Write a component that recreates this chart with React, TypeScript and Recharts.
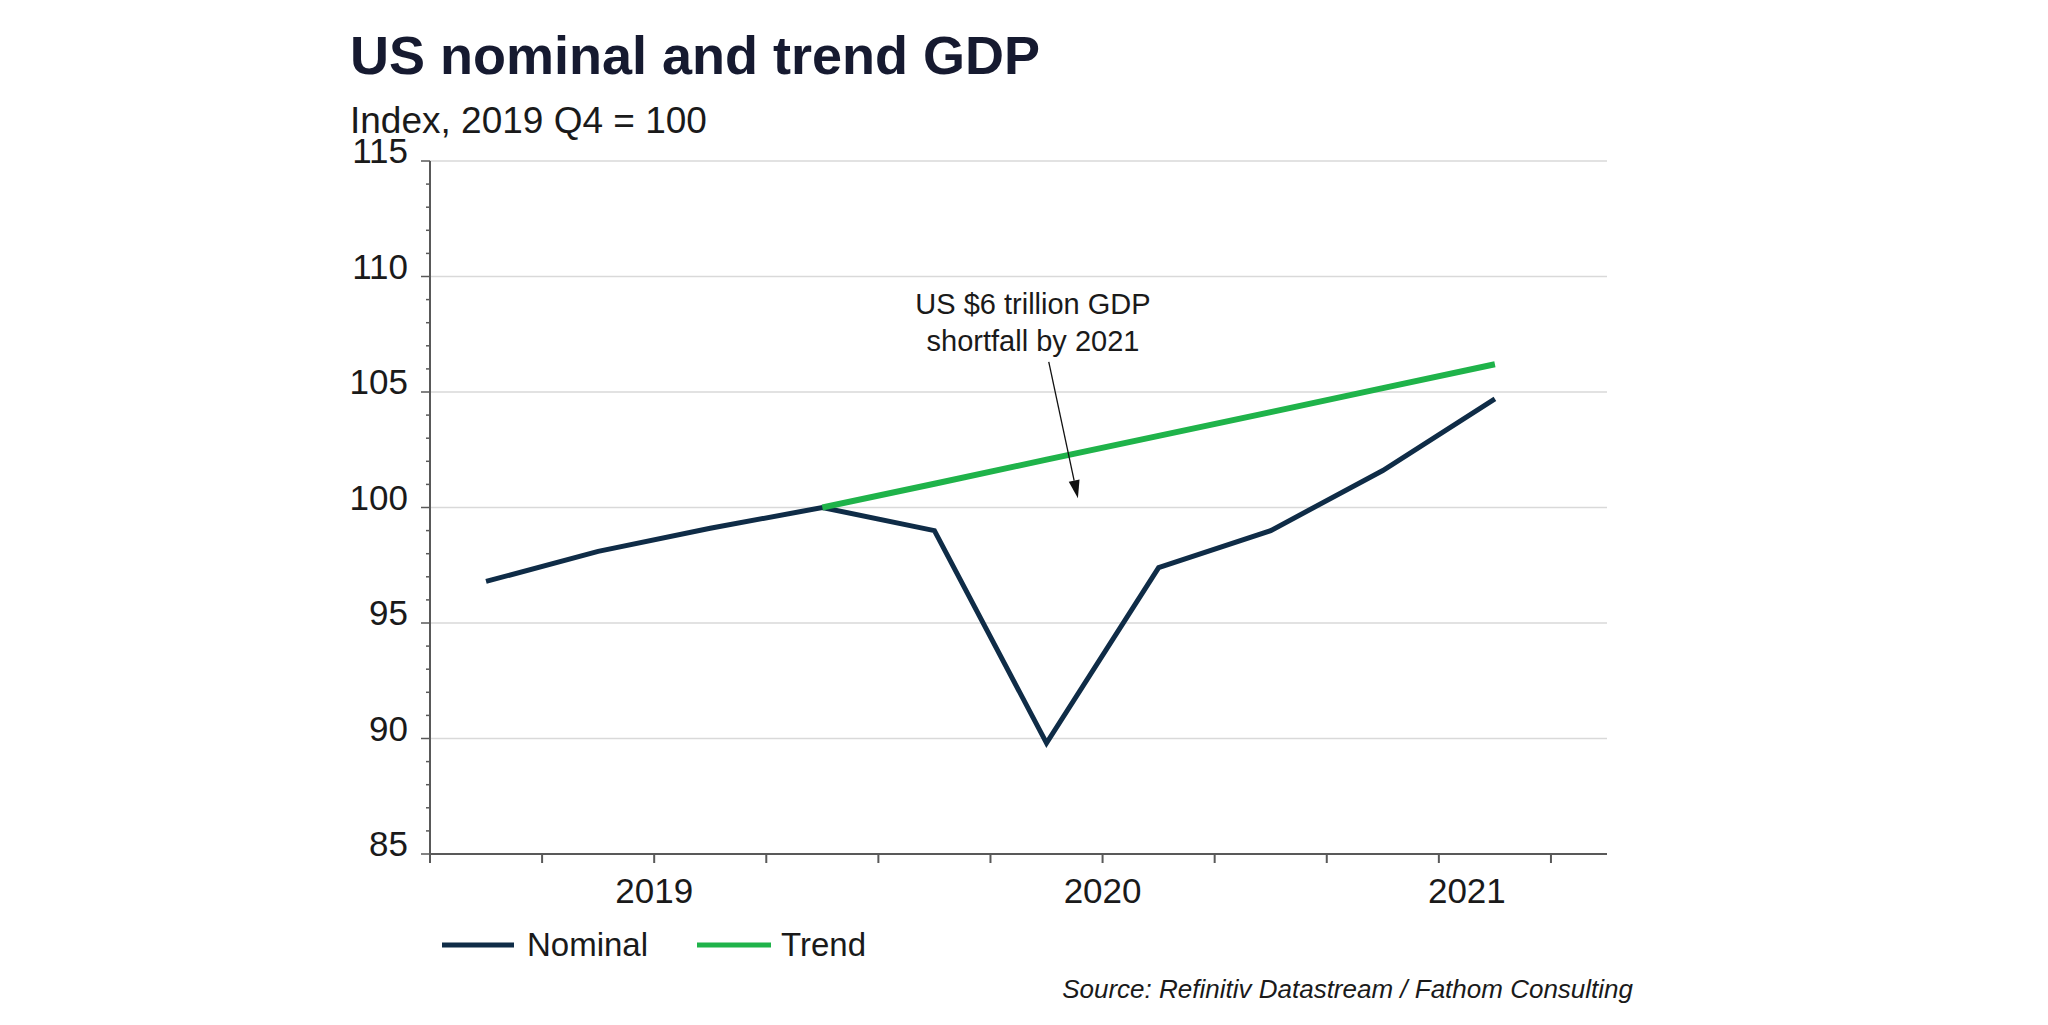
import React from 'react';
import { LineChart, Line, XAxis, YAxis, ReferenceLine } from 'recharts';

const quarters = ['2019 Q1', '2019 Q2', '2019 Q3', '2019 Q4', '2020 Q1', '2020 Q2', '2020 Q3', '2020 Q4', '2021 Q1', '2021 Q2'];
const nominal = [96.8, 98.1, 99.1, 100.0, 99.0, 89.8, 97.4, 99.0, 101.6, 104.7];
const trend = [null, null, null, 100.0, 101.03, 102.07, 103.1, 104.13, 105.17, 106.2];
const years = ['2019', '2020', '2021'];
const yMajor = [85, 90, 95, 100, 105, 110, 115];

// arrow of the annotation, in axis units (quarter index, index value)
const arrowFrom = { x: 5.52, y: 106.3 };
const arrowTo = { x: 5.78, y: 100.4 };

const FONT = '"Liberation Sans", Arial, sans-serif';
const AXIS = '#595959';
const TEXT = '#1a1a1a';

// x runs over quarter bands: point i sits at i + 0.5, axis ends half a band after the last point
const xMax = quarters.length + 0.5;
const data = quarters.map((q, i) => ({ x: i + 0.5, quarter: q, nominal: nominal[i], trend: trend[i] }));

const yearCenters: Record<string, string> = {};
years.forEach((yr) => {
  const first = quarters.findIndex((q) => q.startsWith(yr));
  const end = Math.min(first + 4, xMax);
  yearCenters[String((first + end) / 2)] = yr;
});

const xTicks = Array.from(new Set([...quarters.map((_, i) => i), quarters.length, ...Object.keys(yearCenters).map(Number)])).sort((a, b) => a - b);
const yTicks: number[] = [];
for (let v = yMajor[0]; v <= yMajor[yMajor.length - 1]; v++) yTicks.push(v);

const XTick = (props: any) => {
  const { x, y, payload } = props;
  const v = payload.value;
  const label = yearCenters[String(v)];
  return (
    <g>
      {Number.isInteger(v) && <line x1={x} x2={x} y1={y} y2={y + 9} stroke={AXIS} strokeWidth={2} />}
      {label && (
        <text x={x} y={y + 49} textAnchor="middle" fontFamily={FONT} fontSize={35} fill={TEXT}>
          {label}
        </text>
      )}
    </g>
  );
};

const YTick = (props: any) => {
  const { x, y, payload } = props;
  const v = payload.value;
  const major = yMajor.includes(v);
  return (
    <g>
      <line x1={x - (major ? 9 : 4)} x2={x} y1={y} y2={y} stroke={AXIS} strokeWidth={1.5} />
      {major && (
        <text x={x - 22} y={y + 2} textAnchor="end" fontFamily={FONT} fontSize={35} fill={TEXT}>
          {v}
        </text>
      )}
    </g>
  );
};

const ArrowShape = (props: any) => {
  const { x1, y1, x2, y2 } = props;
  const ang = Math.atan2(y2 - y1, x2 - x1);
  const len = 18;
  const half = 5.5;
  const bx = x2 - len * Math.cos(ang);
  const by = y2 - len * Math.sin(ang);
  const px = -Math.sin(ang) * half;
  const py = Math.cos(ang) * half;
  return (
    <g>
      <line x1={x1} y1={y1} x2={bx} y2={by} stroke="#111" strokeWidth={1.3} />
      <polygon points={`${x2},${y2} ${bx + px},${by + py} ${bx - px},${by - py}`} fill="#111" />
    </g>
  );
};

export default function App() {
  return (
    <div style={{ position: 'absolute', left: 0, top: 0, width: 2048, height: 1025, background: '#fff' }}>
      <LineChart
        width={2048}
        height={1025}
        data={data}
        margin={{ top: 161, right: 441, bottom: 111, left: 330 }}
      >
        <XAxis
          type="number"
          dataKey="x"
          domain={[0, xMax]}
          ticks={xTicks}
          interval={0}
          tickSize={0}
          tickMargin={0}
          tickLine={false}
          axisLine={{ stroke: AXIS, strokeWidth: 2 }}
          tick={<XTick />}
          height={60}
          allowDataOverflow
        />
        <YAxis
          type="number"
          domain={[yMajor[0], yMajor[yMajor.length - 1]]}
          ticks={yTicks}
          interval={0}
          tickSize={0}
          tickMargin={0}
          tickLine={false}
          axisLine={{ stroke: AXIS, strokeWidth: 2 }}
          tick={<YTick />}
          width={100}
          allowDataOverflow
        />
        {yMajor.slice(1).map((v) => (
          <ReferenceLine key={v} y={v} stroke="#d9d9d9" strokeWidth={1.5} />
        ))}
        <Line type="linear" dataKey="nominal" name="Nominal" stroke="#0f2c47" strokeWidth={5} dot={false} isAnimationActive={false} />
        <Line type="linear" dataKey="trend" name="Trend" stroke="#1fb34a" strokeWidth={6} dot={false} isAnimationActive={false} />
        <ReferenceLine segment={[arrowFrom, arrowTo]} shape={ArrowShape} />
      </LineChart>

      <svg width={2048} height={1025} style={{ position: 'absolute', left: 0, top: 0, pointerEvents: 'none' }}>
        <text x={350} y={74} fontFamily={FONT} fontWeight="bold" fontSize={54} fill="#161a30">
          US nominal and trend GDP
        </text>
        <text x={350} y={133} fontFamily={FONT} fontSize={37} fill={TEXT}>
          Index, 2019 Q4 = 100
        </text>
        <text x={1033} y={314} textAnchor="middle" fontFamily={FONT} fontSize={29} fill={TEXT}>
          US $6 trillion GDP
        </text>
        <text x={1033} y={351} textAnchor="middle" fontFamily={FONT} fontSize={29} fill={TEXT}>
          shortfall by 2021
        </text>
        <line x1={442} x2={514} y1={945} y2={945} stroke="#0f2c47" strokeWidth={5} />
        <text x={527} y={956} fontFamily={FONT} fontSize={33} fill={TEXT}>Nominal</text>
        <line x1={697} x2={771} y1={945} y2={945} stroke="#1fb34a" strokeWidth={5} />
        <text x={781} y={956} fontFamily={FONT} fontSize={33} fill={TEXT}>Trend</text>
        <text x={1633} y={998} textAnchor="end" fontFamily={FONT} fontStyle="italic" fontSize={26} fill={TEXT}>
          Source: Refinitiv Datastream / Fathom Consulting
        </text>
      </svg>
    </div>
  );
}
